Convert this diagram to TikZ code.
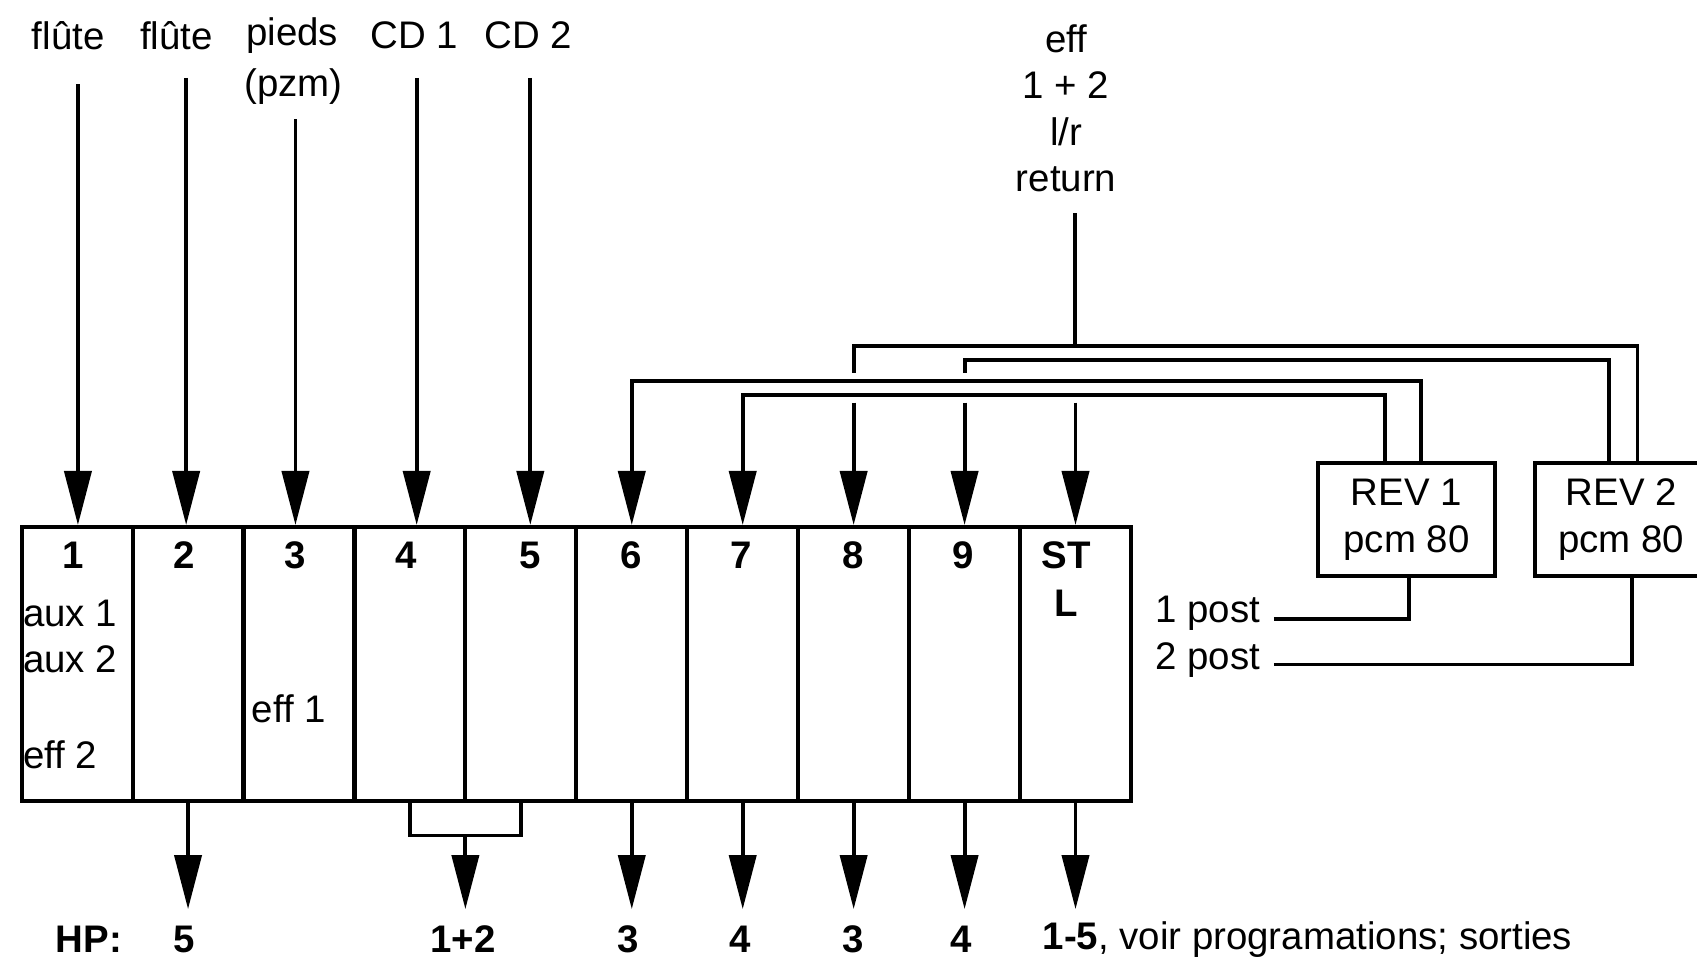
\documentclass[tikz,border=0pt]{standalone}
\usepackage{fontspec}
\setmainfont{Liberation Sans}
\usetikzlibrary{arrows.meta,calc}
\begin{document}
\begin{tikzpicture}[x=0.5pt,y=-0.5pt,
  every node/.style={inner sep=0pt,font=\fontsize{17.75}{21.5}\selectfont},
  ln/.style={line width=1.8pt},
  arr/.style={ln,-{Triangle[length=25pt,width=12.5pt]}},
  chan/.style={draw,line width=1.9pt,minimum width=51.25pt,minimum height=126.5pt},
  revbox/.style={draw,line width=1.9pt,minimum height=52pt,align=center},
  lab/.style={font=\fontsize{17.75}{21.5}\selectfont\bfseries},
  txt/.style={font=\fontsize{17.75}{21.5}\selectfont}
]
\path[use as bounding box] (0,0) rectangle (1568,895);
\clip (0,0) rectangle (1568,895);

% mixer channels
\foreach \i in {1,...,10} {
  \node[chan] (ch\i) at ({71.25+102.5*(\i-1)},613.5) {};
}
% channel numbers
\foreach \n/\x/\t in {n1/68/1,n2/170/2,n3/273/3,n4/375/4,n5/490/5,n6/583/6,n7/685/7,n8/788/8,n9/890/9,n10/985/ST} {
  \node[lab] (\n) at (\x,513) {\t};
}
\node[lab] (nL) at (985,557) {L};
\node[txt,anchor=west] (aux1) at (21,567) {aux 1};
\node[txt,anchor=west] (aux2) at (21,609) {aux 2};
\node[txt,anchor=west] (eff2) at (21,697) {eff 2};
\node[txt] (eff1) at (267,655) {eff 1};

% input labels
\node[txt] (l1) at (63,33) {flûte};
\node[txt] (l2) at (163,33) {flûte};
\node[txt] (l3) at (270,33) {pieds};
\node[txt] (l3b) at (271,80) {(pzm)};
\node[txt] (l4) at (383,33) {CD 1};
\node[txt] (l5) at (488,33) {CD 2};
\node[txt,align=center] (effret) at (985,100) {eff\\1 + 2\\l/r\\return};

% input arrows
\coordinate (in1) at (72,78);
\coordinate (in2) at (172,72);
\coordinate (in3) at (273,110);
\coordinate (in4) at (385,72);
\coordinate (in5) at (490,72);
\foreach \k in {1,...,5} { \draw[arr] (in\k) -- (in\k |- ch\k.north); }

% reverb units
\node[revbox,minimum width=81.5pt] (rev1) at (1299.5,480) {REV 1\\pcm 80};
\node[revbox,minimum width=80pt] (rev2) at (1498,480) {REV 2\\pcm 80};

% buses
\coordinate (tA) at (1513,320);
\coordinate (tB) at (1487,333);
\coordinate (tC) at (1313,352);
\coordinate (tD) at (1280,365);
\coordinate (gapTop) at (0,345);
\coordinate (gapEnd) at (0,372);
\draw[arr] (tC |- rev1.north) -- (tC) -- (tC -| ch6.north) -- (ch6.north);
\draw[arr] (tD |- rev1.north) -- (tD) -- (tD -| ch7.north) -- (ch7.north);
\draw[ln] (tA |- rev2.north) -- (tA) -- (tA -| ch8.north) -- (ch8.north |- gapTop);
\draw[ln] (tB |- rev2.north) -- (tB) -- (tB -| ch9.north) -- (ch9.north |- gapTop);
\coordinate (eftop) at (993,197);
\draw[ln] (eftop) -- (eftop |- tA);
\foreach \k in {8,9,10} { \draw[arr] (ch\k.north |- gapEnd) -- (ch\k.north); }

% post returns
\node[txt] (post1) at (1116,567) {1 post};
\node[txt] (post2) at (1116,610) {2 post};
\coordinate (p1) at (1177,572);
\coordinate (p2) at (1177,614);
\coordinate (r1s) at (1302,0);
\coordinate (r2s) at (1508,0);
\draw[ln] (p1) -| (r1s |- rev1.south);
\draw[ln] (p2) -| (r2s |- rev2.south);

% outputs
\coordinate (outY) at (0,840);
\foreach \k in {2,6,7,8,9,10} { \draw[arr] (ch\k.south) -- (ch\k.south |- outY); }
\coordinate (brk) at (430,772);
\draw[ln] (ch4.south) -- (ch4.south |- brk) -- (ch5.south |- brk) -- (ch5.south);
\draw[arr] (brk) -- (brk |- outY);

% loudspeaker labels
\node[lab] (hp) at (82,868) {HP:};
\node[lab] (o2) at (170,868) {5};
\node[lab] (o45) at (428,868) {1+2};
\node[lab] (o6) at (580,868) {3};
\node[lab] (o7) at (684,868) {4};
\node[lab] (o8) at (788,868) {3};
\node[lab] (o9) at (888,868) {4};
\node[txt,anchor=west] (o10) at (963,868) {\textbf{1-5}, voir programations; sorties};
\end{tikzpicture}
\end{document}
